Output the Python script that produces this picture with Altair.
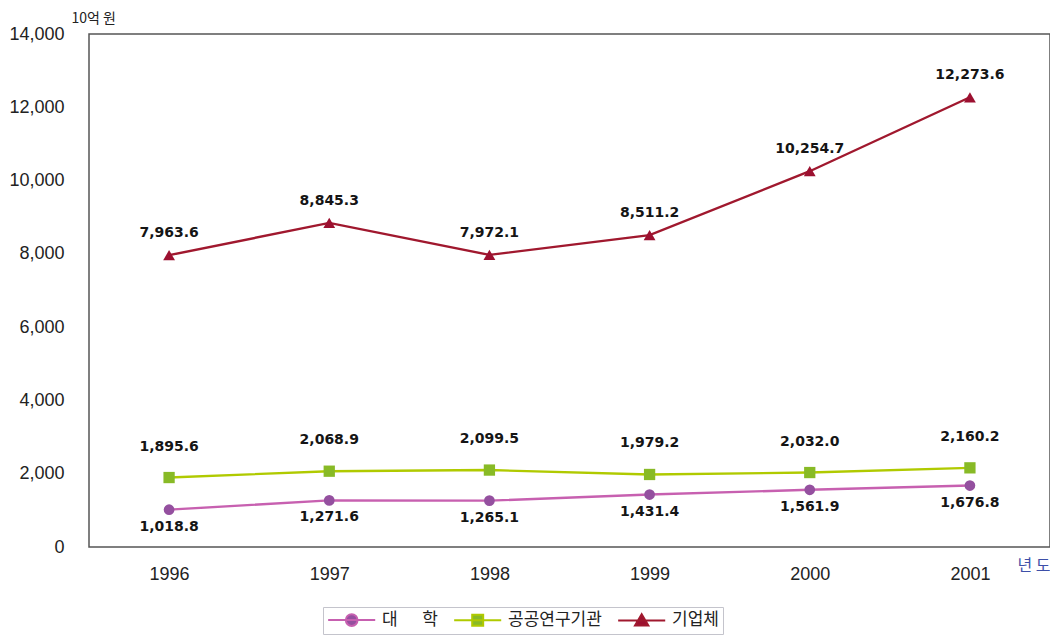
import altair as alt
import pandas as pd

years = ["1996", "1997", "1998", "1999", "2000", "2001"]
series_names = ["대\u3000\u00a0\u00a0학", "공공연구기관", "기업체"]
univ = [1018.8, 1271.6, 1265.1, 1431.4, 1561.9, 1676.8]
public = [1895.6, 2068.9, 2099.5, 1979.2, 2032.0, 2160.2]
corp = [7963.6, 8845.3, 7972.1, 8511.2, 10254.7, 12273.6]
line_colors = ["#c760b0", "#b0ca00", "#a0182e"]
fill_colors = ["#94509f", "#88ba26", "#9c1030"]
shapes = ["circle", "square", "triangle-up"]
# legend symbols: a short line with the marker in the middle
legend_paths = [
    "M-1,0H5M2.75,0A0.75,0.75 0 1,1 1.25,0A0.75,0.75 0 1,1 2.75,0Z",
    "M-1,0H5M1.3,-0.7H2.7V0.7H1.3Z",
    "M-1,0H5M2,-0.8L2.85,0.65H1.15Z",
]

rows = []
for name, vals in zip(series_names, [univ, public, corp]):
    for y, v in zip(years, vals):
        rows.append({"series": name, "year": y, "value": v,
                     "label": f"{v:,.1f}"})
df = pd.DataFrame(rows)

x = alt.X("year:O",
          axis=alt.Axis(title="년 도", labelAngle=0, labelFontSize=18,
                        labelFont="Liberation Sans", labelColor="#222",
                        labelPadding=18, ticks=False, domain=False,
                        titleAngle=0, titleFontSize=16, titleFont="Noto Sans CJK KR",
                        titleFontWeight="normal", titleColor="#3d4fa8",
                        titleX=961, titleY=10, titleAlign="right",
                        titleBaseline="top", titleAnchor="end"),
          scale=alt.Scale(paddingOuter=0.5, paddingInner=0))
y = alt.Y("value:Q", scale=alt.Scale(domain=[0, 14000], nice=False),
          axis=alt.Axis(title="10억 원", values=list(range(0, 14001, 2000)),
                        format=",d", labelFontSize=18, labelFont="Liberation Sans",
                        labelColor="#222", ticks=False, domain=False, grid=False,
                        labelPadding=25, titleAngle=0, titleFontSize=14,
                        titleFont="Noto Sans CJK KR", titleFontWeight="normal",
                        titleColor="#222", titleX=-18, titleY=-9,
                        titleAlign="left", titleBaseline="bottom"))

base = alt.Chart(df)

lines = base.mark_line(strokeWidth=2.4).encode(
    x=x, y=y,
    stroke=alt.Stroke("series:N", scale=alt.Scale(domain=series_names, range=line_colors),
                      legend=None),
    detail="series:N",
)
points = base.mark_point(filled=True, opacity=1, strokeWidth=0).encode(
    x=x, y=y,
    fill=alt.Fill("series:N", scale=alt.Scale(domain=series_names, range=fill_colors),
                  legend=None),
    shape=alt.Shape("series:N", scale=alt.Scale(domain=series_names, range=shapes),
                    legend=None),
    size=alt.Size("series:N", scale=alt.Scale(domain=series_names, range=[115, 140, 150]),
                  legend=None),
)

legend = alt.Legend(title=None, orient="none", direction="horizontal",
                    legendX=234, legendY=573, labelFontSize=17,
                    labelFont="Noto Sans CJK KR", labelColor="#222",
                    strokeColor="#c4c4cc", padding=4, symbolSize=246,
                    labelOffset=37, columnPadding=12, symbolStrokeWidth=2,
                    symbolOpacity=1)
legend_layer = base.transform_filter("false").mark_point(strokeWidth=2).encode(
    x=x, y=y,
    stroke=alt.Stroke("series:N", scale=alt.Scale(domain=series_names, range=line_colors),
                      legend=legend),
    fill=alt.Fill("series:N", scale=alt.Scale(domain=series_names, range=fill_colors),
                  legend=legend),
    shape=alt.Shape("series:N", scale=alt.Scale(domain=series_names, range=legend_paths),
                    legend=legend),
)

txt_style = dict(fontSize=14, fontWeight="bold", color="#151515", font="DejaVu Sans")
t_corp = base.transform_filter(alt.datum.series == "기업체").mark_text(dy=-22, **txt_style).encode(
    x=x, y=y, text="label:N")
t_pub = base.transform_filter(alt.datum.series == "공공연구기관").mark_text(dy=-31, **txt_style).encode(
    x=x, y=y, text="label:N")
t_univ = base.transform_filter(alt.datum.series == series_names[0]).mark_text(dy=17, **txt_style).encode(
    x=x, y=y, text="label:N")

chart = alt.layer(lines, points, t_corp, t_pub, t_univ, legend_layer).resolve_scale(
    stroke="independent", fill="independent", shape="independent", size="independent"
).resolve_legend(
    stroke="independent", fill="independent", shape="independent", size="independent"
).properties(
    width=961, height=513,
    padding={"left": 0, "top": 3, "right": 0, "bottom": 0},
).configure_view(stroke="#555555", strokeWidth=1.5)

chart.save("out.html", embed_options={"renderer": "svg", "actions": False})
